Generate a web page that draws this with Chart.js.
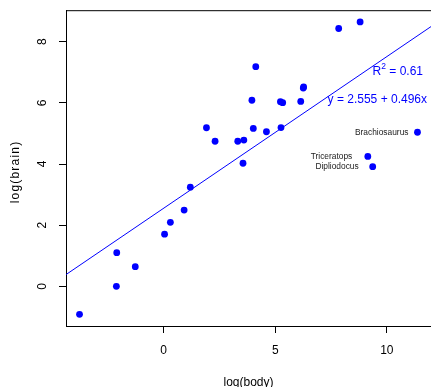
<!DOCTYPE html>
<html lang="en">
<head>
    <meta charset="UTF-8">
    <style>
        * { margin: 0; padding: 0; box-sizing: border-box; }
        body { background: #fff; }
        #wrap { width: 431px; height: 387px; }
    </style>
</head>
<body>
    <div id="wrap"><canvas id="myChart" width="431" height="387"></canvas></div>

    <script src="https://cdn.jsdelivr.net/npm/chart.js"></script>
    <script>
        // Animals data: log(body) and log(brain)
        const names = ["Mountain beaver", "Cow", "Grey wolf", "Goat", "Guinea pig", "Dipliodocus",
            "Asian elephant", "Donkey", "Horse", "Potar monkey", "Cat", "Giraffe", "Gorilla", "Human",
            "African elephant", "Triceratops", "Rhesus monkey", "Kangaroo", "Golden hamster", "Mouse",
            "Rabbit", "Sheep", "Jaguar", "Chimpanzee", "Rat", "Brachiosaurus", "Mole", "Pig"];
        const logBody = [0.300, 6.142, 3.593, 3.320, 0.039, 9.367, 7.843, 5.232, 6.256, 2.303, 1.194,
            6.271, 5.333, 4.127, 8.803, 9.148, 1.917, 3.555, -2.120, -3.772, 0.916, 4.016, 4.605,
            3.954, -1.273, 11.374, -2.104, 5.257];
        const logBrain = [2.092, 6.047, 4.783, 4.745, 1.705, 3.912, 8.434, 6.038, 6.485, 4.745, 3.243,
            6.522, 6.006, 7.185, 8.650, 4.248, 5.187, 4.025, 0.000, -0.916, 2.493, 5.165, 5.056,
            6.087, 0.642, 5.040, 1.099, 5.193];

        // fitted line y = 2.555 + 0.496x, endpoints at the plot edges
        const fitX = [-4.378, 11.98];
        const fitY = [0.383, 8.497];

        const xTicks = [0, 5, 10];
        const yTicks = [0, 2, 4, 6, 8];
        const labelled = ["Brachiosaurus", "Triceratops", "Dipliodocus"];

        const FONT = '"Liberation Sans", Arial, sans-serif';

        const points = logBody.map((x, i) => ({ x: x, y: logBrain[i] }));
        const linePts = fitX.map((x, i) => ({ x: x, y: fitY[i] }));

        const extras = {
            id: 'extras',
            afterDraw(chart) {
                const ctx = chart.ctx;
                const a = chart.chartArea;
                const xs = chart.scales.x, ys = chart.scales.y;
                ctx.save();
                // top border
                ctx.strokeStyle = '#000';
                ctx.lineWidth = 1;
                ctx.beginPath();
                ctx.moveTo(a.left, a.top + 0.5);
                ctx.lineTo(a.right, a.top + 0.5);
                ctx.stroke();

                // y tick labels, rotated like R
                ctx.fillStyle = '#000';
                ctx.font = '12px ' + FONT;
                ctx.textAlign = 'center';
                ctx.textBaseline = 'middle';
                ys.ticks.forEach(t => {
                    const py = ys.getPixelForValue(t.value);
                    ctx.save();
                    ctx.translate(43, py);
                    ctx.rotate(-Math.PI / 2);
                    ctx.fillText(String(t.value), 0, 0);
                    ctx.restore();
                });

                // axis titles
                ctx.font = '12px ' + FONT;
                ctx.save();
                ctx.translate(16, 172);
                ctx.rotate(-Math.PI / 2);
                ctx.letterSpacing = '1.2px';
                ctx.fillText('log(brain)', 0, 0);
                ctx.restore();
                ctx.fillText('log(body)', (a.left + a.right) / 2, 383);

                // labels for the dinosaurs
                ctx.font = '8.4px ' + FONT;
                ctx.fillStyle = '#222';
                ctx.textAlign = 'right';
                const gaps = { Brachiosaurus: 9, Triceratops: 15.5, Dipliodocus: 14 };
                labelled.forEach(n => {
                    const i = names.indexOf(n);
                    const px = xs.getPixelForValue(logBody[i]);
                    const py = ys.getPixelForValue(logBrain[i]);
                    ctx.fillText(n, px - gaps[n], py);
                });

                // R^2 and equation
                ctx.fillStyle = '#0000ff';
                ctx.textAlign = 'left';
                ctx.font = '12px ' + FONT;
                const rest = ' = 0.61';
                const wRest = ctx.measureText(rest).width;
                const xEnd = 423;
                ctx.fillText(rest, xEnd - wRest, 72);
                ctx.font = '8.5px ' + FONT;
                const w2 = ctx.measureText('2').width;
                ctx.fillText('2', xEnd - wRest - w2, 67);
                ctx.font = '12px ' + FONT;
                const wR = ctx.measureText('R').width;
                ctx.fillText('R', xEnd - wRest - w2 - wR, 72);

                ctx.textAlign = 'right';
                ctx.fillText('y = 2.555 + 0.496x', 427, 100);
                ctx.restore();
            }
        };

        new Chart('myChart', {
            type: 'scatter',
            data: {
                datasets: [{
                    data: linePts,
                    showLine: true,
                    borderColor: '#0000ff',
                    borderWidth: 1,
                    pointRadius: 0,
                    fill: false
                }, {
                    data: points,
                    backgroundColor: '#0000ff',
                    borderWidth: 0,
                    pointRadius: 3.4
                }]
            },
            options: {
                responsive: false,
                animation: false,
                events: [],
                layout: { autoPadding: false, padding: { top: 7, left: 0, right: 0, bottom: 0 } },
                plugins: { legend: { display: false }, tooltip: { enabled: false } },
                scales: {
                    x: {
                        type: 'linear',
                        min: -4.378,
                        max: 11.98,
                        afterBuildTicks: s => { s.ticks = xTicks.map(v => ({ value: v })); },
                        afterFit: s => { s.height = 61; },
                        grid: { drawOnChartArea: false, drawTicks: true, tickLength: 7, color: '#000', tickColor: '#000' },
                        border: { display: true, color: '#000', width: 1 },
                        ticks: { color: '#000', padding: 10, maxRotation: 0, font: { size: 12, family: FONT } }
                    },
                    y: {
                        type: 'linear',
                        min: -1.299,
                        max: 9.033,
                        afterBuildTicks: s => { s.ticks = yTicks.map(v => ({ value: v })); },
                        afterFit: s => { s.width = 66; },
                        grid: { drawOnChartArea: false, drawTicks: true, tickLength: 7, color: '#000', tickColor: '#000' },
                        border: { display: true, color: '#000', width: 1 },
                        ticks: { color: 'rgba(0,0,0,0)', font: { size: 12, family: FONT } }
                    }
                }
            },
            plugins: [extras]
        });
    </script>
</body>
</html>
